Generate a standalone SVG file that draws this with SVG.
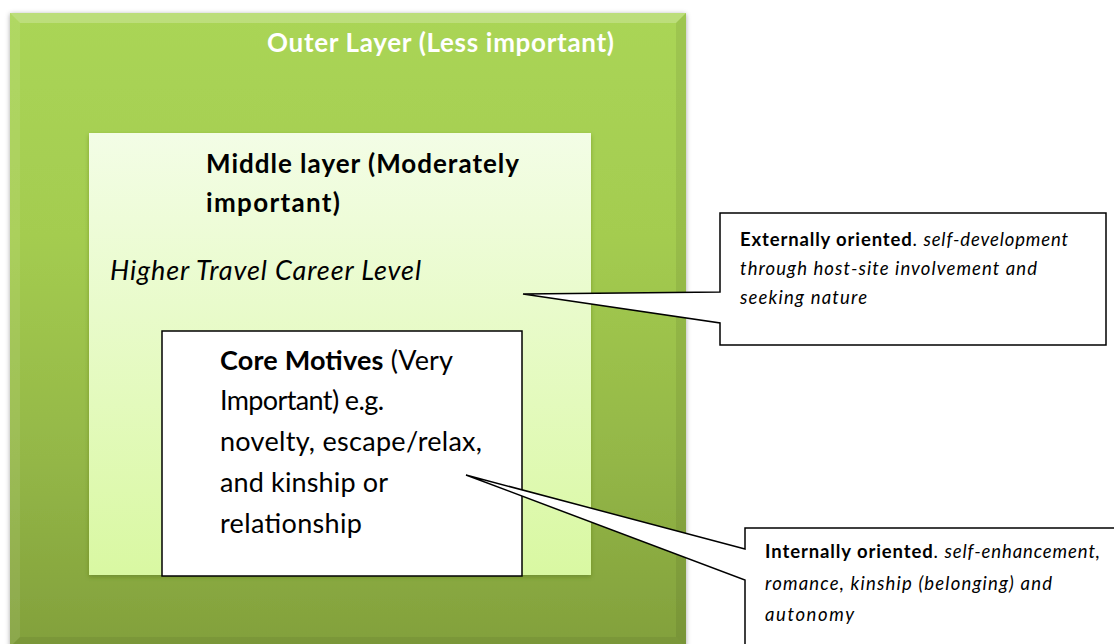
<svg xmlns="http://www.w3.org/2000/svg" width="1114" height="644" viewBox="0 0 1114 644">
  <defs>
    <linearGradient id="outerFill" x1="0" y1="0" x2="0" y2="1">
      <stop offset="0" stop-color="#aad556"/>
      <stop offset="0.35" stop-color="#a4cc50"/>
      <stop offset="0.7" stop-color="#94b747"/>
      <stop offset="1" stop-color="#82a03c"/>
    </linearGradient>
    <linearGradient id="middleFill" x1="0" y1="0" x2="0" y2="1">
      <stop offset="0" stop-color="#f3fde6"/>
      <stop offset="1" stop-color="#d9f8a2"/>
    </linearGradient>
    <filter id="outerShadow" x="-5%" y="-5%" width="110%" height="110%">
      <feDropShadow dx="0" dy="1" stdDeviation="2.5" flood-color="#000" flood-opacity="0.35"/>
    </filter>
    <filter id="middleShadow" x="-5%" y="-5%" width="110%" height="110%">
      <feDropShadow dx="0" dy="2" stdDeviation="2" flood-color="#4d6b12" flood-opacity="0.45"/>
    </filter>
  </defs>
  <style>
    .ui { font-family: Lato, "Open Sans", "Liberation Sans", sans-serif; }
    .head { font-size: 26px; font-weight: bold; }
    .body { font-size: 27px; }
    .note { font-size: 18.5px; fill: #000; }
    .callout { fill: #ffffff; stroke: #000; stroke-width: 1.5; stroke-linejoin: miter; }
    .b { font-weight: bold; }
    .i { font-style: italic; }
  </style>

  <rect width="1114" height="644" fill="#ffffff"/>

  <!-- Outer layer: bevelled green panel -->
  <g id="outer-layer">
    <rect x="10" y="13" width="676" height="634" fill="url(#outerFill)" filter="url(#outerShadow)"/>
    <polygon points="10,13 686,13 676,23 20,23" fill="#ffffff" opacity="0.22"/>
    <polygon points="10,13 20,23 20,637 10,647" fill="#ffffff" opacity="0.08"/>
    <polygon points="686,13 686,647 676,637 676,23" fill="#000000" opacity="0.07"/>
    <polygon points="10,647 20,637 676,637 686,647" fill="#000000" opacity="0.06"/>
    <text class="ui head" x="267" y="52" fill="#ffffff" textLength="347">Outer Layer (Less important)</text>
  </g>

  <!-- Middle layer -->
  <g id="middle-layer">
    <rect x="89" y="133" width="502" height="442" fill="url(#middleFill)" filter="url(#middleShadow)"/>
    <text class="ui head" x="206" y="173" fill="#000" textLength="313">Middle layer (Moderately</text>
    <text class="ui head" x="206" y="212" fill="#000" textLength="134">important)</text>
    <text class="ui body i" x="110" y="280" fill="#000" textLength="311">Higher Travel Career Level</text>
  </g>

  <!-- Core motives -->
  <g id="core-motives">
    <rect x="162" y="331" width="360" height="245" fill="#ffffff" stroke="#000" stroke-width="1.5"/>
    <text class="ui body" x="220" y="370" fill="#000" textLength="233"><tspan class="b">Core Motives</tspan> (Very</text>
    <text class="ui body" x="220" y="410" fill="#000" textLength="164">Important) e.g.</text>
    <text class="ui body" x="220" y="451" fill="#000" textLength="262">novelty, escape/relax,</text>
    <text class="ui body" x="220" y="492" fill="#000" textLength="168">and kinship or</text>
    <text class="ui body" x="220" y="533" fill="#000" textLength="142">relationship</text>
  </g>

  <!-- Callout shapes (pointers) -->
  <g id="connectors">
    <path class="callout" d="M720,213 H1106 V345 H720 V323 L523,294 L720,292 Z"/>
    <path class="callout" d="M745,528 H1120 V660 H745 V580 L466,475 L745,549 Z"/>
  </g>

  <!-- Callout texts -->
  <g id="external-callout">
    <text class="ui note" x="740" y="246" textLength="328"><tspan class="b">Externally oriented</tspan>. <tspan class="i">self-development</tspan></text>
    <text class="ui note i" x="740" y="275" textLength="297">through host-site involvement and</text>
    <text class="ui note i" x="740" y="304" textLength="127">seeking nature</text>
  </g>
  <g id="internal-callout">
    <text class="ui note" x="765" y="558" textLength="335"><tspan class="b">Internally oriented</tspan>. <tspan class="i">self-enhancement,</tspan></text>
    <text class="ui note i" x="765" y="590" textLength="287">romance, kinship (belonging) and</text>
    <text class="ui note i" x="765" y="621" textLength="89">autonomy</text>
  </g>
</svg>
